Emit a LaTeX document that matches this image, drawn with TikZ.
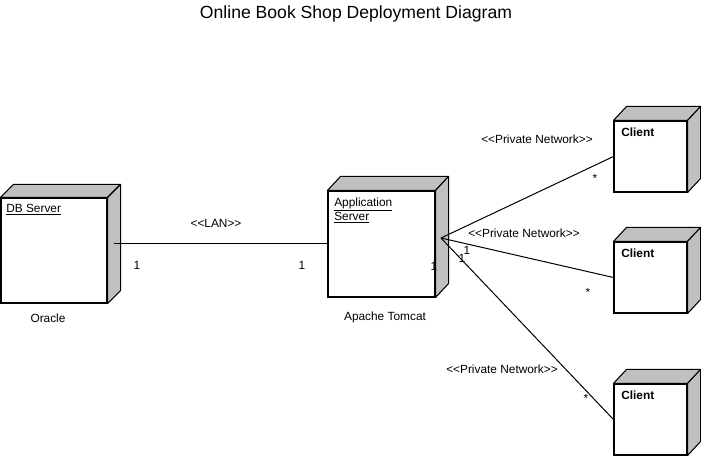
\documentclass[tikz,border=0pt]{standalone}
\usepackage{fontspec}
\setmainfont{Liberation Sans}
\usetikzlibrary{calc}
\definecolor{sidegray}{RGB}{192,192,192}
\tikzset{
  devbox/.style={draw=black, line width=0.8pt, fill=white, inner sep=0pt},
  face/.style={draw=black, line width=0.8pt, fill=sidegray, line join=round},
  conn/.style={draw=black, line width=0.75pt},
  lbl/.style={font=\fontsize{8.9}{10.5}\selectfont, inner sep=0pt},
  ttl/.style={font=\fontsize{13.2}{15}\selectfont, inner sep=0pt}
}
\newcommand\depthfaces[3]{%
  \path[face] (#1.north west) -- ++(#2,-#3) -- ($(#1.north east)+(#2,-#3)$) -- (#1.north east) -- cycle;
  \path[face] (#1.north east) -- ++(#2,-#3) -- ($(#1.south east)+(#2,-#3)$) -- (#1.south east) -- cycle;
}
\begin{document}
\begin{tikzpicture}[x=0.75pt,y=-0.75pt]
\useasboundingbox (0,0) rectangle (701,456);
% title
\node[ttl] (title) at (356,14) {Online Book Shop Deployment Diagram};
% nodes
\node[devbox, minimum width=106*0.75pt, minimum height=105*0.75pt] (db) at (54,250.5) {};
\depthfaces{db}{13}{13}
\node[devbox, minimum width=107*0.75pt, minimum height=106*0.75pt] (app) at (381.5,244) {};
\depthfaces{app}{13}{14}
\node[devbox, minimum width=73*0.75pt, minimum height=71*0.75pt] (c1) at (650.5,156.5) {};
\depthfaces{c1}{13}{14}
\node[devbox, minimum width=73*0.75pt, minimum height=71*0.75pt] (c2) at (650.5,277.5) {};
\depthfaces{c2}{13}{14}
\node[devbox, minimum width=73*0.75pt, minimum height=71*0.75pt] (c3) at (650.5,419.5) {};
\depthfaces{c3}{13}{14}
% node texts
\node[lbl, anchor=west] (dbname) at (6,210) {\underline{DB Server}};
\node[lbl] (oracle) at (48,318) {Oracle};
\node[lbl, anchor=west, align=left] (appname) at (334,210.5) {\underline{Application}\\\underline{Server}};
\node[lbl] (tomcat) at (385,317) {Apache Tomcat};
\node[lbl, anchor=west] (c1name) at (621,132) {\textbf{Client}};
\node[lbl, anchor=west] (c2name) at (621,253) {\textbf{Client}};
\node[lbl, anchor=west] (c3name) at (621,395) {\textbf{Client}};
% connectors
\coordinate (hub) at (441,238);
\coordinate (lanstart) at ($(db.east|-app.west)+(6,0)$);
\draw[conn] (lanstart) -- (app.west);
\draw[conn] (hub) -- (c1.west);
\draw[conn] (hub) -- (c2.west);
\draw[conn] (hub) -- (c3.west);
% connector labels
\node[lbl] (lan) at (216,223) {<{}<LAN>{}>};
\node[lbl] (lan1) at (137,265) {1};
\node[lbl] (lan2) at (302,265) {1};
\node[lbl] (pn1) at (537,139) {<{}<Private Network>{}>};
\node[lbl] (pn1s) at (595,178) {*};
\node[lbl] (pn2) at (524,233) {<{}<Private Network>{}>};
\node[lbl] (pn2a) at (467,250) {1};
\node[lbl] (pn2s) at (588,292) {*};
\node[lbl] (pn3) at (502,369) {<{}<Private Network>{}>};
\node[lbl] (pn3a) at (462,258) {1};
\node[lbl] (pn3s) at (586,398) {*};
\node[lbl] (pn1a) at (434,266) {1};
\end{tikzpicture}
\end{document}
